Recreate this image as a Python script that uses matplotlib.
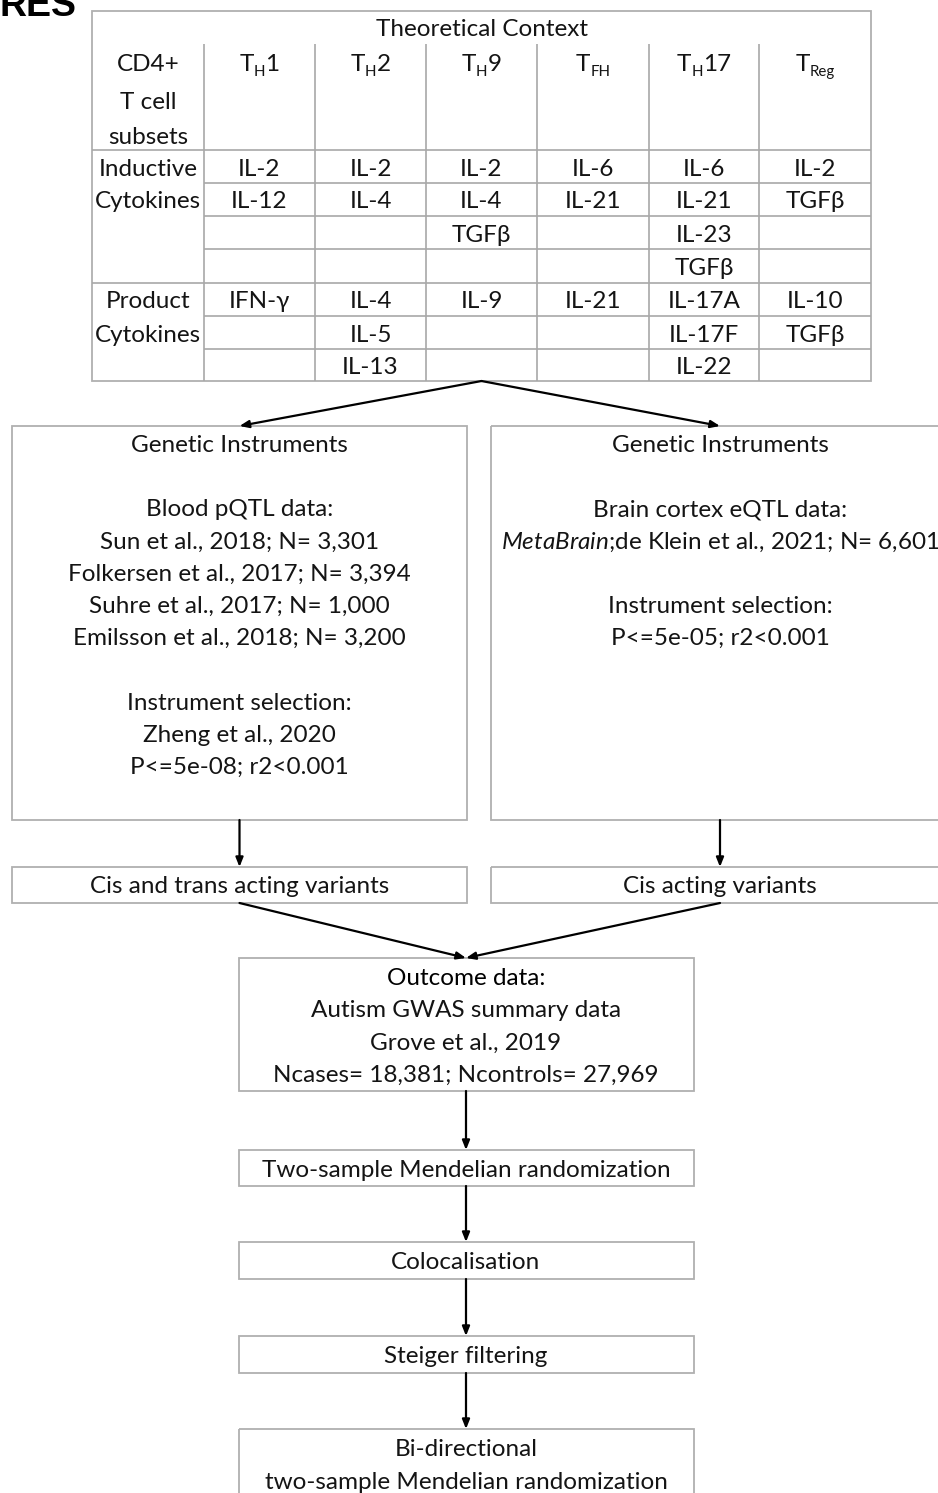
import matplotlib
matplotlib.use("Agg")
import matplotlib.pyplot as plt
from matplotlib.patches import Rectangle

plt.rcParams['font.family'] = ['Lato', 'DejaVu Sans']
plt.rcParams['mathtext.fontset'] = 'custom'
plt.rcParams['mathtext.rm'] = 'Lato'
plt.rcParams['mathtext.it'] = 'Lato:italic'
plt.rcParams['mathtext.bf'] = 'Lato:bold'

# ---------------- data ----------------
table_title = "Theoretical Context"
corner_label = ["CD4+", "T cell", "subsets"]
# subset names as (main, subscript, suffix)
subsets = [("T", "H", "1"), ("T", "H", "2"), ("T", "H", "9"),
           ("T", "FH", ""), ("T", "H", "17"), ("T", "Reg", "")]
inductive_label = ["Inductive", "Cytokines"]
inductive = [
    ["IL-2", "IL-2", "IL-2", "IL-6", "IL-6", "IL-2"],
    ["IL-12", "IL-4", "IL-4", "IL-21", "IL-21", "TGFβ"],
    ["", "", "TGFβ", "", "IL-23", ""],
    ["", "", "", "", "TGFβ", ""],
]
product_label = ["Product", "Cytokines"]
product = [
    ["IFN-γ", "IL-4", "IL-9", "IL-21", "IL-17A", "IL-10"],
    ["", "IL-5", "", "", "IL-17F", "TGFβ"],
    ["", "IL-13", "", "", "IL-22", ""],
]
left_lines = ["Genetic Instruments", "", "Blood pQTL data:", "Sun et al., 2018; N= 3,301",
              "Folkersen et al., 2017; N= 3,394", "Suhre et al., 2017; N= 1,000",
              "Emilsson et al., 2018; N= 3,200", "", "Instrument selection:",
              "Zheng et al., 2020", "P<=5e-08; r2<0.001"]
right_lines = ["Genetic Instruments", "", "Brain cortex eQTL data:",
               r"$\mathit{MetaBrain}$;de Klein et al., 2021; N= 6,601", "",
               "Instrument selection:", "P<=5e-05; r2<0.001"]
left_variants = "Cis and trans acting variants"
right_variants = "Cis acting variants"
outcome_lines = ["Outcome data:", "Autism GWAS summary data",
                 "Grove et al., 2019", "Ncases= 18,381; Ncontrols= 27,969"]
steps = ["Two-sample Mendelian randomization", "Colocalisation",
         "Steiger filtering", "Bi-directional\ntwo-sample Mendelian randomization"]

# ---------------- layout ----------------
W, H = 938, 1493
fig = plt.figure(figsize=(W / 100, H / 100), dpi=100)
ax = fig.add_axes([0, 0, 1, 1])
ax.set_xlim(0, W)
ax.set_ylim(H, 0)
ax.axis('off')
renderer = fig.canvas.get_renderer()

TXT = '#141414'
GRID = '#a8a8a8'
BOX = '#b0b0b0'
FS = 17.5

def txt(x, y, s, **kw):
    kw.setdefault('fontsize', FS)
    kw.setdefault('color', TXT)
    return ax.text(x, y, s, ha='center', va='baseline', **kw)

def hline(y, x0, x1, c=GRID):
    ax.plot([x0, x1], [y, y], color=c, lw=1.2, solid_capstyle='butt')

def vline(x, y0, y1, c=GRID):
    ax.plot([x, x], [y0, y1], color=c, lw=1.2, solid_capstyle='butt')

def box(x0, y0, x1, y1):
    ax.add_patch(Rectangle((x0, y0), x1 - x0, y1 - y0, fill=False,
                           edgecolor=BOX, lw=1.3))

def arrow(p0, p1):
    ax.annotate('', xy=p1, xytext=p0,
                arrowprops=dict(arrowstyle='-|>,head_length=0.55,head_width=0.22',
                                color='black', lw=1.6, mutation_scale=10,
                                shrinkA=0, shrinkB=0))

def sub_label(cx, yb, main, sub, suffix):
    pieces = [(main, FS, 0), (sub, FS * 0.62, 5), (suffix, FS, 0)]
    objs = []
    for s, fs, dy in pieces:
        if not s:
            continue
        t = ax.text(0, yb + dy, s, fontsize=fs, color=TXT, ha='left', va='baseline')
        objs.append(t)
    widths = [o.get_window_extent(renderer).width for o in objs]
    x = cx - sum(widths) / 2
    for o, w in zip(objs, widths):
        o.set_x(x)
        x += w

# cut-off figure label
ax.text(-1, 16, "RES", fontsize=27, fontweight='bold', family='Liberation Sans',
        color='black', ha='left', va='baseline')

# ---------------- table ----------------
col_edges = [92, 204, 315, 426, 537, 649, 759, 871]
row_edges = [150, 183, 216, 249, 283, 316, 349, 381]
t_top, head_top = 11, 44

box(col_edges[0], t_top, col_edges[-1], row_edges[-1])
for x in col_edges[1:-1]:
    vline(x, head_top, row_edges[-1])
for y in (row_edges[0], row_edges[4]):
    hline(y, col_edges[0], col_edges[-1])
for y in row_edges[1:4] + row_edges[5:7]:
    hline(y, col_edges[1], col_edges[-1])

txt((col_edges[0] + col_edges[-1]) / 2 + 1, 36, table_title)
c0 = (col_edges[0] + col_edges[1]) / 2
for yb, s in zip([71, 109, 144], corner_label):
    txt(c0, yb, s)
centers = [(a + b) / 2 for a, b in zip(col_edges[1:-1], col_edges[2:])]
for cx, (m, sb, sf) in zip(centers, subsets):
    sub_label(cx, 71, m, sb, sf)

row_mid = [(a + b) / 2 for a, b in zip(row_edges[:-1], row_edges[1:])]
for i, s in enumerate(inductive_label):
    txt(c0, row_mid[i] + 9, s)
for i, s in enumerate(product_label):
    txt(c0, row_mid[4 + i] + 9, s)
for i, row in enumerate(inductive):
    for cx, s in zip(centers, row):
        if s:
            txt(cx, row_mid[i] + 9, s)
for i, row in enumerate(product):
    for cx, s in zip(centers, row):
        if s:
            txt(cx, row_mid[4 + i] + 9, s)

# ---------------- instrument boxes ----------------
apex = ((col_edges[0] + col_edges[-1]) / 2, row_edges[-1])
L0, L1 = 12, 467
R0, R1 = 491, 945
gi_top, gi_bot = 426, 820
lc, rc = (L0 + L1) / 2, 720
arrow(apex, (lc, gi_top))
arrow(apex, (rc, gi_top))
box(L0, gi_top, L1, gi_bot)
box(R0, gi_top, R1, gi_bot)

line_h = 32.2
for i, s in enumerate(left_lines):
    if s:
        txt(lc, 452 + i * line_h, s)
for i, s in enumerate(right_lines):
    if s:
        txt(rc, 452 + i * line_h, s)

v_top, v_bot = 867, 903
arrow((lc, gi_bot), (lc, v_top))
arrow((rc, gi_bot), (rc, v_top))
box(L0, v_top, L1, v_bot)
box(R0, v_top, R1, v_bot)
txt(lc, 893, left_variants)
txt(rc, 893, right_variants)

# ---------------- outcome & steps ----------------
B0, B1 = 239, 694
bc = 466
o_top, o_bot = 958, 1091
arrow((lc, v_bot), (bc, o_top))
arrow((rc, v_bot), (bc, o_top))
box(B0, o_top, B1, o_bot)
for i, s in enumerate(outcome_lines):
    txt(bc, 985 + i * line_h, s, color='black' if i == 0 else TXT)

step_boxes = [(1150, 1186), (1242, 1279), (1336, 1373), (1429, 1510)]
prev = o_bot
for (t, b), s in zip(step_boxes, steps):
    arrow((bc, prev), (bc, t))
    box(B0, t, B1, b)
    for j, p in enumerate(s.split("\n")):
        txt(bc, t + 27 + j * 33, p)
    prev = b

fig.savefig("out.png", dpi=100)
